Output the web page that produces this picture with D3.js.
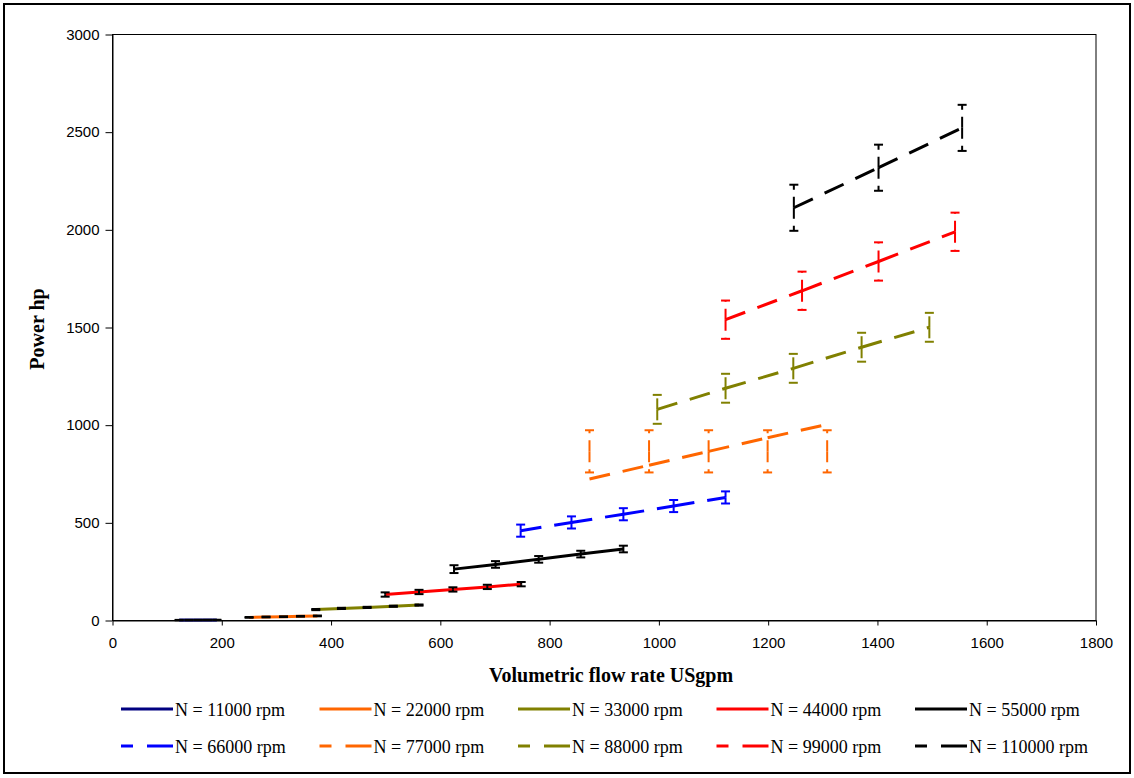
<!DOCTYPE html>
<html>
<head>
<meta charset="utf-8">
<script src="https://cdn.jsdelivr.net/npm/d3@7"></script>
<style>
  html, body { margin: 0; padding: 0; background: #fff; }
  svg { display: block; }
</style>
</head>
<body>
<svg id="chart" width="1134" height="778"></svg>
<script>
// ---------- data ----------
const seriesNames = ["N = 11000 rpm", "N = 22000 rpm", "N = 33000 rpm", "N = 44000 rpm", "N = 55000 rpm",
                     "N = 66000 rpm", "N = 77000 rpm", "N = 88000 rpm", "N = 99000 rpm", "N = 110000 rpm"];
const flowRates = [
  [122, 140, 157, 174, 191],
  [250, 281, 313, 344, 375],
  [372, 419, 466, 514, 561],
  [499, 561, 623, 686, 748],
  [625, 701, 780, 857, 935],
  [747, 840, 935, 1027, 1122],
  [873, 982, 1091, 1199, 1308],
  [997, 1122, 1246, 1371, 1495],
  [1122, 1262, 1402, 1542],
  [1247, 1402, 1555]
];
const powers = [
  [2.1, 2.3, 2.5, 2.7, 2.9],
  [16, 18, 19.5, 21.5, 23.5],
  [56, 62, 67, 73, 79],
  [133, 146, 159, 172, 186],
  [263, 287, 313, 340, 366],
  [460, 502, 544, 586, 630],
  [724, 795, 866, 936, 1004],
  [1081, 1189, 1291, 1399, 1501],
  [1540, 1688, 1838, 1990],
  [2113, 2318, 2522]
];
// error-bar centre (null = at the point) and half-length, in hp
const errCenters = [null, null, null, null, null, null, 866, null, null, null];
const errHalf = [
  [1, 1, 1, 1, 1],
  [2, 2, 2, 2, 2],
  [3, 3, 3, 3, 3],
  [11, 11, 11, 11, 11],
  [20, 17, 17, 17, 17],
  [31, 31, 31, 31, 31],
  [108, 108, 108, 108, 108],
  [74, 74, 74, 74, 74],
  [98, 98, 98, 98],
  [118, 118, 118]
];
const xTicks = [0, 200, 400, 600, 800, 1000, 1200, 1400, 1600, 1800];
const yTicks = [0, 500, 1000, 1500, 2000, 2500, 3000];
const xTitle = "Volumetric flow rate USgpm";
const yTitle = "Power hp";

// ---------- styles ----------
const lineColors = ["#000080", "#FF6600", "#808000", "#FF0000", "#000000",
                    "#0000FF", "#FF6600", "#808000", "#FF0000", "#000000"];
const isDashed = [false, false, false, false, false, true, true, true, true, true];
const errColors = lineColors.map((c, i) => isDashed[i] ? c : "#000000");

// ---------- chart ----------
const svg = d3.select("#chart");
svg.append("rect").attr("x", 0).attr("y", 0).attr("width", 1134).attr("height", 778).attr("fill", "#fff");
svg.append("rect").attr("x", 4).attr("y", 4).attr("width", 1126).attr("height", 769)
  .attr("fill", "none").attr("stroke", "#000").attr("stroke-width", 2);

const x = d3.scaleLinear().domain([0, 1800]).range([112.5, 1096]);
const y = d3.scaleLinear().domain([0, 3000]).range([620.5, 34.5]);

// plot area border
svg.append("rect")
  .attr("x", x(0)).attr("y", y(3000))
  .attr("width", x(1800) - x(0)).attr("height", y(0) - y(3000))
  .attr("fill", "none").attr("stroke", "#000").attr("stroke-width", 1);

const tickFont = "'Liberation Sans', Arial, sans-serif";
const yAxis = svg.append("g").attr("transform", `translate(${x(0)},0)`)
  .call(d3.axisLeft(y).tickValues(yTicks).tickSize(7).tickSizeOuter(0).tickPadding(6).tickFormat(d3.format("d")));
const xAxis = svg.append("g").attr("transform", `translate(0,${y(0)})`)
  .call(d3.axisBottom(x).tickValues(xTicks).tickSize(5).tickSizeOuter(0).tickPadding(12).tickFormat(d3.format("d")));
[xAxis, yAxis].forEach(g => {
  g.selectAll("text").attr("font-family", tickFont).attr("font-size", 15).attr("fill", "#000");
  g.selectAll("line").attr("stroke", "#000");
  g.select(".domain").attr("stroke", "#000");
});

// axis titles
const titleFont = "'Liberation Serif', 'Times New Roman', serif";
svg.append("text").attr("x", 611).attr("y", 682).attr("text-anchor", "middle")
  .attr("font-family", titleFont).attr("font-weight", "bold").attr("font-size", 20).text(xTitle);
svg.append("text").attr("transform", "translate(44,329) rotate(-90)").attr("text-anchor", "middle")
  .attr("font-family", titleFont).attr("font-weight", "bold").attr("font-size", 20).text(yTitle);

// series
const plot = svg.append("g");
seriesNames.forEach((name, i) => {
  const pts = flowRates[i].map((f, k) => ({ f, p: powers[i][k], k }));
  const g = plot.append("g");
  if (isDashed[i]) {
    // dash pattern restarts at every data point
    d3.pairs(pts).forEach(([a, b]) => {
      g.append("line")
        .attr("x1", x(a.f)).attr("y1", y(a.p)).attr("x2", x(b.f)).attr("y2", y(b.p))
        .attr("stroke", lineColors[i]).attr("stroke-width", 3).attr("stroke-dasharray", "21,13");
    });
  } else {
    g.append("path").datum(pts)
      .attr("d", d3.line().x(d => x(d.f)).y(d => y(d.p)))
      .attr("fill", "none").attr("stroke", lineColors[i]).attr("stroke-width", 3);
  }
  // error bars
  pts.forEach(d => {
    const c = errCenters[i] === null ? d.p : errCenters[i];
    const h = errHalf[i][d.k];
    const px = x(d.f);
    const eb = g.append("g").attr("stroke", errColors[i]).attr("stroke-width", 2);
    [c + h, c - h].forEach(v => {
      eb.append("line").attr("x1", px).attr("x2", px).attr("y1", y(c)).attr("y2", y(v))
        .attr("stroke-dasharray", isDashed[i] ? "11,7" : null);
      eb.append("line").attr("x1", px - 4.5).attr("x2", px + 4.5).attr("y1", y(v)).attr("y2", y(v));
    });
  });
});

// legend
const legFont = "'Liberation Serif', 'Times New Roman', serif";
seriesNames.forEach((name, i) => {
  const col = i % 5, row = Math.floor(i / 5);
  const lx = 121 + col * 198.5, ly = 709 + row * 37;
  svg.append("line").attr("x1", lx).attr("x2", lx + 52).attr("y1", ly).attr("y2", ly)
    .attr("stroke", lineColors[i]).attr("stroke-width", 3)
    .attr("stroke-dasharray", isDashed[i] ? "12,14,30" : null);
  svg.append("text").attr("x", lx + 54).attr("y", ly + 6.5)
    .attr("font-family", legFont).attr("font-size", 18).attr("fill", "#000").text(name);
});
</script>
</body>
</html>
